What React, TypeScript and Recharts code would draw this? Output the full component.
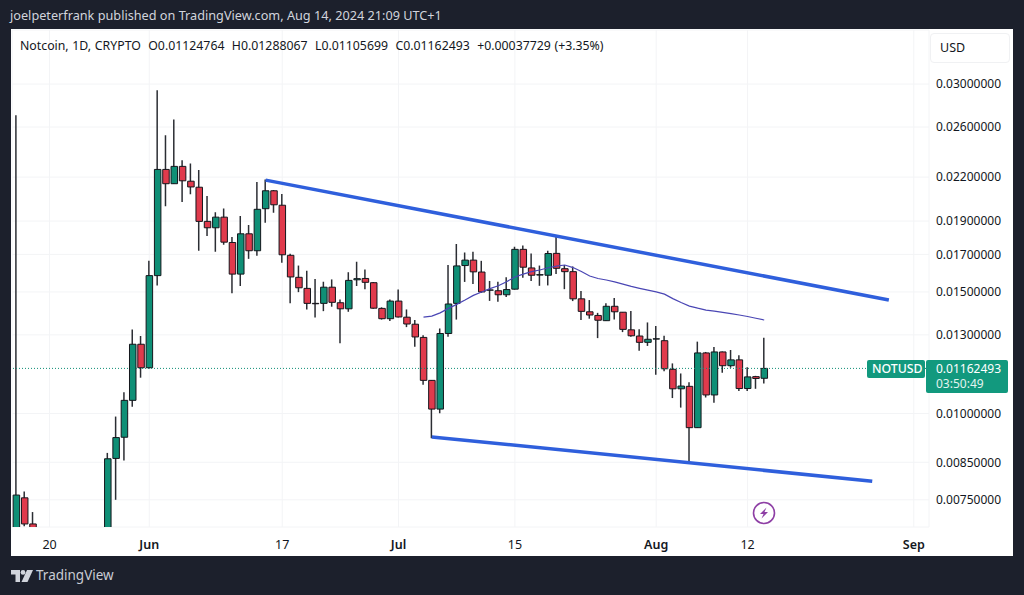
import { Bar, CartesianGrid, Cell, ComposedChart, Line, ReferenceLine, XAxis, YAxis } from 'recharts'

const categories = [
  'May 16', 'May 17', 'May 18', 'May 19', 'May 20', 'May 21', 'May 22', 'May 23', 'May 24', 'May 25', 'May 26',
  'May 27', 'May 28', 'May 29', 'May 30', 'May 31',
  'Jun 1', 'Jun 2', 'Jun 3', 'Jun 4', 'Jun 5', 'Jun 6', 'Jun 7', 'Jun 8', 'Jun 9', 'Jun 10',
  'Jun 11', 'Jun 12', 'Jun 13', 'Jun 14', 'Jun 15', 'Jun 16', 'Jun 17', 'Jun 18', 'Jun 19', 'Jun 20',
  'Jun 21', 'Jun 22', 'Jun 23', 'Jun 24', 'Jun 25', 'Jun 26', 'Jun 27', 'Jun 28', 'Jun 29', 'Jun 30',
  'Jul 1', 'Jul 2', 'Jul 3', 'Jul 4', 'Jul 5', 'Jul 6', 'Jul 7', 'Jul 8', 'Jul 9', 'Jul 10',
  'Jul 11', 'Jul 12', 'Jul 13', 'Jul 14', 'Jul 15', 'Jul 16', 'Jul 17', 'Jul 18', 'Jul 19', 'Jul 20',
  'Jul 21', 'Jul 22', 'Jul 23', 'Jul 24', 'Jul 25', 'Jul 26', 'Jul 27', 'Jul 28', 'Jul 29', 'Jul 30', 'Jul 31',
  'Aug 1', 'Aug 2', 'Aug 3', 'Aug 4', 'Aug 5', 'Aug 6', 'Aug 7', 'Aug 8', 'Aug 9', 'Aug 10',
  'Aug 11', 'Aug 12', 'Aug 13', 'Aug 14', 'Aug 15', 'Aug 16', 'Aug 17', 'Aug 18', 'Aug 19', 'Aug 20',
  'Aug 21', 'Aug 22', 'Aug 23', 'Aug 24', 'Aug 25', 'Aug 26', 'Aug 27', 'Aug 28', 'Aug 29', 'Aug 30', 'Aug 31',
  'Sep 1', 'Sep 2',
]

// May 19-26 sit below the visible price range, so they stay empty
const opens = [
  0.0060, 0.00755, 0.00692, null, null, null, null, null, null, null, null,
  0.0067, 0.00861, 0.00924, 0.01045, 0.0126,
  0.01165, 0.01584, 0.02257, 0.02152, 0.0228, 0.0217, 0.02127, 0.01898, 0.01858, 0.01925,
  0.01769, 0.01592, 0.01821, 0.01721, 0.0198, 0.02102, 0.02003, 0.01695, 0.01575, 0.01518,
  0.01444, 0.01444, 0.01524, 0.01447, 0.01418, 0.01562, 0.01569, 0.01547, 0.0142, 0.01372,
  0.01455, 0.01379, 0.01347, 0.01289, 0.01117, 0.01015, 0.01306, 0.01444, 0.01638, 0.01668,
  0.01603, 0.01509, 0.01506, 0.01486, 0.01514, 0.01729, 0.01625, 0.01587, 0.01586, 0.01706,
  0.01621, 0.01605, 0.01466, 0.01404, 0.01387, 0.01363, 0.0143, 0.01402, 0.01322, 0.01295, 0.01268,
  0.01282, 0.01275, 0.01159, 0.01086, 0.01095, 0.00954, 0.01224, 0.01064, 0.01228, 0.01173,
  0.01196, 0.01087, 0.01131, 0.01124764,
]
const highs = [
  0.02705, 0.00771, 0.0072, null, null, null, null, null, null, null, null,
  0.00877, 0.0099, 0.01074, 0.01324, 0.01295,
  0.01664, 0.0294, 0.0253, 0.02666, 0.02328, 0.02303, 0.02252, 0.02065, 0.01956, 0.01982,
  0.01801, 0.01932, 0.01876, 0.02164, 0.02183, 0.02107, 0.02079, 0.01704, 0.01638, 0.0161,
  0.01566, 0.01552, 0.01564, 0.01463, 0.01602, 0.01659, 0.01616, 0.01551, 0.01425, 0.01463,
  0.01512, 0.01415, 0.01366, 0.01298, 0.01118, 0.01328, 0.01641, 0.0176, 0.01711, 0.01715,
  0.01664, 0.01556, 0.01552, 0.01575, 0.01744, 0.01752, 0.01705, 0.01638, 0.01721, 0.01807,
  0.01641, 0.01633, 0.01505, 0.0146, 0.01399, 0.01444, 0.0147, 0.01403, 0.01408, 0.01325, 0.01355,
  0.01339, 0.01296, 0.01182, 0.01143, 0.0111, 0.01271, 0.01228, 0.01248, 0.0123, 0.01236,
  0.01215, 0.01167, 0.01134, 0.01288067,
]
const lows = [
  0.0055, 0.00687, 0.0067, null, null, null, null, null, null, null, null,
  0.0066, 0.0075, 0.00855, 0.01023, 0.01127,
  0.01161, 0.01533, 0.01997, 0.0215, 0.02024, 0.02077, 0.01721, 0.01807, 0.01715, 0.01756,
  0.01493, 0.0153, 0.01675, 0.01692, 0.01889, 0.01953, 0.01654, 0.01444, 0.01499, 0.01415,
  0.01378, 0.01407, 0.01428, 0.01264, 0.01404, 0.0153, 0.01514, 0.01418, 0.01368, 0.01362,
  0.01378, 0.01334, 0.0125, 0.01101, 0.00921, 0.01001, 0.01292, 0.01368, 0.01551, 0.0154,
  0.01496, 0.01456, 0.01452, 0.01475, 0.01512, 0.01573, 0.01556, 0.01531, 0.01533, 0.01592,
  0.01514, 0.01455, 0.01366, 0.01372, 0.01286, 0.01362, 0.01368, 0.01312, 0.01292, 0.01233, 0.01253,
  0.01138, 0.01151, 0.01053, 0.0102, 0.00849, 0.00953, 0.01055, 0.01037, 0.01146, 0.01165,
  0.01078, 0.01078, 0.01086, 0.01105699,
]
const closes = [
  0.00762, 0.00692, 0.0068, null, null, null, null, null, null, null, null,
  0.0086, 0.00923, 0.01045, 0.0126, 0.01165,
  0.01584, 0.02257, 0.02152, 0.0228, 0.02173, 0.02129, 0.01898, 0.01858, 0.01925, 0.01771,
  0.01592, 0.01821, 0.01721, 0.01976, 0.02102, 0.02006, 0.01698, 0.01577, 0.01521, 0.01444,
  0.01442, 0.01524, 0.01449, 0.01418, 0.01559, 0.01568, 0.01549, 0.01421, 0.01372, 0.01455,
  0.0138, 0.01348, 0.01291, 0.01117, 0.01015, 0.01306, 0.01441, 0.01636, 0.01668, 0.01604,
  0.015, 0.0151, 0.01486, 0.01512, 0.01729, 0.01629, 0.01586, 0.01589, 0.01705, 0.01623,
  0.01605, 0.01466, 0.01406, 0.01389, 0.01365, 0.0143, 0.01404, 0.01324, 0.01296, 0.01268, 0.01281,
  0.01283, 0.01161, 0.01086, 0.01096, 0.00954, 0.01224, 0.01064, 0.01228, 0.01173, 0.01196,
  0.01087, 0.0113, 0.01124, 0.01162493,
]

const maStart = 'Jul 4'
const maValues = [
  0.01379, 0.01384, 0.01399, 0.0142, 0.01439, 0.0146, 0.01483, 0.015, 0.01517, 0.01531, 0.01552,
  0.01577, 0.01592, 0.01605, 0.01614, 0.01626, 0.01635, 0.01641, 0.01627, 0.01606, 0.01582, 0.01569,
  0.01561, 0.01551, 0.0154, 0.01528, 0.01518, 0.01509, 0.015, 0.01489, 0.01467, 0.01448, 0.01431,
  0.01421, 0.01412, 0.01407, 0.01401, 0.01395, 0.01389, 0.01382, 0.01374, 0.01366,
]

const upperTrendDates = ['Jun 15', 'Aug 29']
const upperTrendValues = [0.02178, 0.0146]
const lowerTrendDates = ['Jul 5', 'Aug 27']
const lowerTrendValues = [0.00925, 0.00798]

const lastPrice = 0.01162493
const priceTicks = [0.03, 0.026, 0.022, 0.019, 0.017, 0.015, 0.013, 0.01, 0.0085, 0.0075]
const timeTicks = ['May 20', 'Jun 1', 'Jun 17', 'Jul 1', 'Jul 15', 'Aug 1', 'Aug 12', 'Sep 1']
const timeLabels = ['20', 'Jun', '17', 'Jul', '15', 'Aug', '12', 'Sep']

const GREEN = '#0f8f76'
const RED = '#e03a4c'
const FONT = '"Noto Sans", sans-serif'

const rows = categories.map((date, i) => {
  const o = opens[i]
  const c = closes[i]
  const hasCandle = o != null && c != null
  const maIndex = i - categories.indexOf(maStart)
  const upperIndex = upperTrendDates.indexOf(date)
  const lowerIndex = lowerTrendDates.indexOf(date)
  return {
    date,
    wick: hasCandle ? [lows[i], highs[i]] : null,
    body: hasCandle ? [Math.min(o, c), Math.max(o, c)] : null,
    up: hasCandle && c >= o,
    ma: maIndex >= 0 && maIndex < maValues.length ? maValues[maIndex] : null,
    upper: upperIndex >= 0 ? upperTrendValues[upperIndex] : null,
    lower: lowerIndex >= 0 ? lowerTrendValues[lowerIndex] : null,
  }
})

const TimeTick = ({ x, y, payload }: { x: number; y: number; payload: { value: string } }) => {
  const label = timeLabels[timeTicks.indexOf(payload.value)]
  const isMonth = /[a-z]/i.test(label)
  return (
    <text x={x} y={y + 14} textAnchor="middle" fontFamily={FONT} fontSize={12.5}
      fontWeight={isMonth ? 600 : 400} fill="#131722">
      {label}
    </text>
  )
}

const overlayText = {
  position: 'absolute' as const,
  fontFamily: FONT,
  whiteSpace: 'nowrap' as const,
  lineHeight: '15px',
}

export default function App() {
  return (
    <div style={{ position: 'fixed', left: 0, top: 0, width: 1024, height: 595, background: '#1c202c', overflow: 'hidden' }}>
      <div style={{ position: 'absolute', left: 11, top: 29, width: 1002, height: 527, background: '#fff' }} />

      <div style={{ ...overlayText, left: 10, top: 8, fontSize: 12.7, color: '#d1d4dc' }}>
        joelpeterfrank published on TradingView.com, Aug 14, 2024 21:09 UTC+1
      </div>

      <div style={{ position: 'absolute', left: 0, top: 0 }}>
        <ComposedChart width={1024} height={595} data={rows}
          margin={{ top: 30, right: 12, bottom: 39, left: 12.15 }}>
          <CartesianGrid stroke="#f3f4f6" strokeWidth={1} xAxisId="time" yAxisId="price" />
          <XAxis xAxisId="time" dataKey="date" ticks={timeTicks} interval={0} height={29}
            padding={{ left: 0, right: 2.75 }} axisLine={false} tickLine={false} tick={TimeTick} />
          <XAxis xAxisId="candle" dataKey="date" hide height={0} padding={{ left: 0, right: 2.75 }} />
          <YAxis yAxisId="price" orientation="right" width={83} scale="log" allowDataOverflow
            domain={[0.00685, 0.03593]} ticks={priceTicks} interval={0} axisLine={false} tickLine={false}
            tickFormatter={(v: number) => v.toFixed(8)} tickMargin={1}
            tick={{ fontSize: 12, fontFamily: FONT, fill: '#131722' }} />

          <ReferenceLine xAxisId="time" yAxisId="price" y={lastPrice} stroke="#0f8f76" strokeWidth={1} strokeDasharray="1 2" />

          <Line xAxisId="time" yAxisId="price" dataKey="ma" stroke="#4a46b4" strokeWidth={1.2} dot={false}
            isAnimationActive={false} />
          <Bar xAxisId="time" yAxisId="price" dataKey="wick" barSize={1.5} fill="#2b2d33" isAnimationActive={false} />
          <Bar xAxisId="candle" yAxisId="price" dataKey="body" barSize={6.5} stroke="#14161c" strokeWidth={1}
            isAnimationActive={false}>
            {rows.map(r => <Cell key={r.date} fill={r.up ? GREEN : RED} />)}
          </Bar>
          <Line xAxisId="time" yAxisId="price" dataKey="upper" stroke="#2f5fdc" strokeWidth={3.5} dot={false}
            connectNulls isAnimationActive={false} />
          <Line xAxisId="time" yAxisId="price" dataKey="lower" stroke="#2f5fdc" strokeWidth={3.5} dot={false}
            connectNulls isAnimationActive={false} />
        </ComposedChart>
      </div>

      <div style={{ ...overlayText, left: 20, top: 38, fontSize: 12.3, color: '#131722', wordSpacing: 0.5 }}>
        Notcoin, 1D, CRYPTO&nbsp; O0.01124764&nbsp; H0.01288067&nbsp; L0.01105699&nbsp; C0.01162493&nbsp; +0.00037729 (+3.35%)
      </div>

      <div style={{ position: 'absolute', left: 930, top: 33, width: 78, height: 28, border: '1px solid #f0f1f3', borderRadius: 4, background: '#fff' }} />
      <div style={{ ...overlayText, left: 940, top: 40, fontSize: 12.5, color: '#131722' }}>USD</div>

      <div style={{ position: 'absolute', left: 867, top: 360, width: 58, height: 18, background: '#12997e', borderRadius: 2 }} />
      <div style={{ ...overlayText, left: 872, top: 361, fontSize: 12.3, fontWeight: 500, color: '#fff' }}>NOTUSD</div>
      <div style={{ position: 'absolute', left: 926, top: 360, width: 82, height: 33, background: '#12997e', borderRadius: 2 }} />
      <div style={{ ...overlayText, left: 936, top: 361, fontSize: 12, color: '#fff' }}>0.01162493</div>
      <div style={{ ...overlayText, left: 936, top: 376, fontSize: 12, color: '#e3f3ef' }}>03:50:49</div>

      <svg style={{ position: 'absolute', left: 752, top: 501 }} width={24} height={24} viewBox="0 0 24 24">
        <circle cx={12} cy={12} r={10.5} fill="#fff" stroke="#8e3fa5" strokeWidth={1.6} />
        <path d="M14.5 6.5 L8 13 L11.5 13 L9.5 17.5 L16 11 L12.5 11 Z" fill="#8e3fa5" />
      </svg>

      <svg style={{ position: 'absolute', left: 11, top: 570 }} width={22} height={13} viewBox="0 0 22 13">
        <path d="M0 0 H9 V12 H4.5 V4.5 H0 Z" fill="#d1d4dc" />
        <circle cx={12} cy={2.4} r={2.4} fill="#d1d4dc" />
        <path d="M16 0 H22 L16.5 12 H10.5 Z" fill="#d1d4dc" />
      </svg>
      <div style={{ ...overlayText, left: 36, top: 568, fontSize: 13.5, color: '#c9ccd4' }}>TradingView</div>
    </div>
  )
}
